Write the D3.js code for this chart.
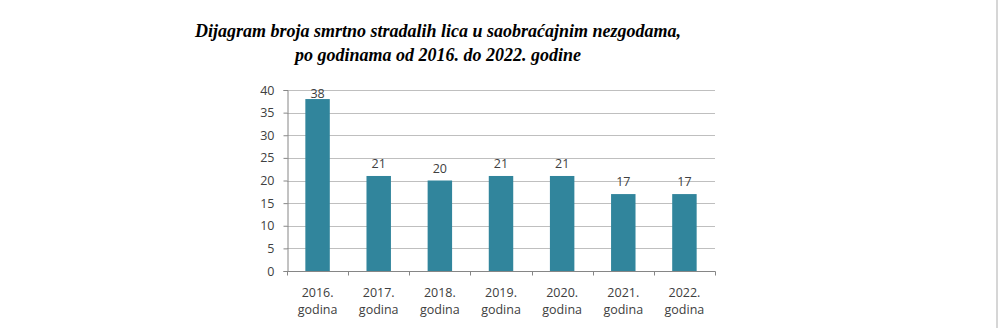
<!DOCTYPE html>
<html>
<head>
<meta charset="utf-8">
<script src="https://cdn.jsdelivr.net/npm/d3@7"></script>
<style>
  html, body { margin: 0; padding: 0; background: #fff; }
  svg { display: block; }
</style>
</head>
<body>
<svg id="chart" width="1000" height="328"></svg>
<script>
const titleLines = ["Dijagram broja smrtno stradalih lica u saobraćajnim nezgodama,", "po godinama od 2016. do 2022. godine"];
const years = ["2016.", "2017.", "2018.", "2019.", "2020.", "2021.", "2022."];
const yearSuffix = "godina";
const deaths = [38, 21, 20, 21, 21, 17, 17];
const yTicks = [0, 5, 10, 15, 20, 25, 30, 35, 40];

const svg = d3.select("#chart");
const plot = { left: 287, right: 715, top: 90, bottom: 271 };

const x = d3.scaleBand().domain(years).range([plot.left, plot.right]).paddingInner(0.6).paddingOuter(0.3);
const xOuter = d3.scaleBand().domain(years).range([plot.left, plot.right]);
const y = d3.scaleLinear().domain([0, 40]).range([plot.bottom, plot.top]);

// right page edge line
svg.append("rect").attr("x", 996).attr("y", 0).attr("width", 2).attr("height", 328).attr("fill", "#d6d6d6");

// title
svg.append("g").selectAll("text").data(titleLines).join("text")
  .attr("x", 438).attr("y", (d, i) => 37 + i * 24)
  .attr("text-anchor", "middle")
  .attr("font-family", "'Liberation Serif', 'Times New Roman', serif")
  .attr("font-weight", "bold").attr("font-style", "italic")
  .attr("font-size", 18).attr("fill", "#000")
  .text(d => d);

// gridlines
svg.append("g").selectAll("line").data(yTicks.filter(d => d > 0)).join("line")
  .attr("x1", plot.left).attr("x2", plot.right)
  .attr("y1", d => Math.round(y(d)) + 0.5).attr("y2", d => Math.round(y(d)) + 0.5)
  .attr("stroke", "#bfbfbf").attr("stroke-width", 1);

// y axis
const yAxis = d3.axisLeft(y).tickValues(yTicks).tickSize(4).tickPadding(9);
const gy = svg.append("g").attr("transform", `translate(${plot.left + 0.5},0)`).call(yAxis);
gy.select(".domain").attr("stroke", "#868686");
gy.selectAll(".tick line").attr("stroke", "#868686");
gy.selectAll(".tick text").attr("font-family", "'Open Sans', Lato, sans-serif").attr("font-size", 12.5).attr("fill", "#404040");

// x axis
const gx = svg.append("g").attr("transform", `translate(0,${plot.bottom + 0.5})`);
gx.append("line").attr("x1", plot.left).attr("x2", plot.right + 0.5).attr("stroke", "#868686");
const bounds = years.map(d => xOuter(d)).concat([plot.right]);
gx.selectAll(".xt").data(bounds).join("line").attr("class", "xt")
  .attr("x1", d => Math.round(d) + 0.5).attr("x2", d => Math.round(d) + 0.5)
  .attr("y1", 0).attr("y2", 4).attr("stroke", "#868686");
const labels = gx.selectAll(".xl").data(years).join("text").attr("class", "xl")
  .attr("text-anchor", "middle")
  .attr("font-family", "'Open Sans', Lato, sans-serif").attr("font-size", 12.5).attr("fill", "#404040");
labels.append("tspan").attr("x", d => x(d) + x.bandwidth() / 2).attr("y", 25).text(d => d);
labels.append("tspan").attr("x", d => x(d) + x.bandwidth() / 2).attr("y", 42).text(yearSuffix);

// bars
svg.append("g").selectAll("rect").data(deaths).join("rect")
  .attr("x", (d, i) => x(years[i])).attr("width", x.bandwidth())
  .attr("y", d => y(d)).attr("height", d => y(0) - y(d))
  .attr("fill", "#31859c");

// value labels
svg.append("g").selectAll("text").data(deaths).join("text")
  .attr("x", (d, i) => x(years[i]) + x.bandwidth() / 2)
  .attr("y", d => Math.max(y(d) - 8, y(40) + 8))
  .attr("text-anchor", "middle")
  .attr("font-family", "'Open Sans', Lato, sans-serif").attr("font-size", 12.5).attr("fill", "#404040")
  .text(d => d);
</script>
</body>
</html>
